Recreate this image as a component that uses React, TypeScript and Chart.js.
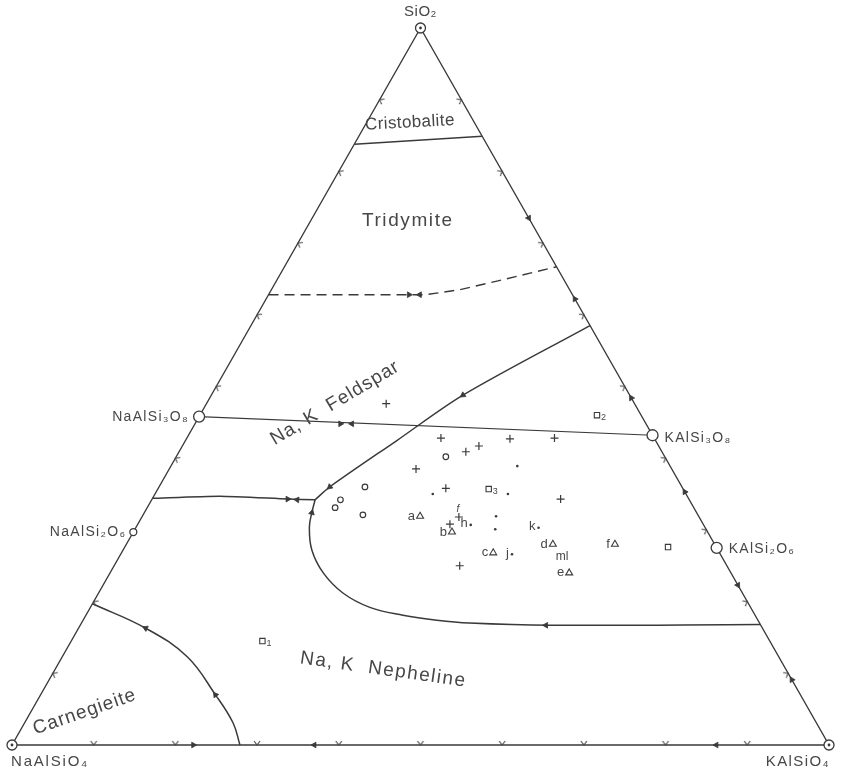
import React, { useEffect, useRef } from "react";
import { Chart, registerables } from "chart.js";

Chart.register(...registerables);

// Compositions in weight %: [SiO2, KAlSiO4]; NaAlSiO4 is the remainder.
type Comp = [number, number];

const endMemberNames = ["SiO₂", "NaAlSiO₄", "KAlSiO₄"];
const endMembers: Comp[] = [[100, 0], [0, 0], [0, 100]];

const compoundNames = ["NaAlSi₃O₈", "KAlSi₃O₈", "NaAlSi₂O₆", "KAlSi₂O₆"];
const compounds: Comp[] = [[45.8, 0], [43.2, 56.8], [29.7, 0], [27.5, 72.5]];

const tickLevels = [10, 20, 30, 40, 50, 60, 70, 80, 90];

// Field boundaries
const triangleSides: Comp[] = [[100, 0], [0, 0], [0, 100], [100, 0]];
const cristobaliteTridymite: Comp[] = [[83.8, 0], [84.9, 15.1]];
const tridymiteFeldspar: Comp[] = [[62.8, 0], [62.8, 19.2], [63.5, 23.1], [64.7, 27.0], [66.7, 33.3]];
const feldsparJoin: Comp[] = [[45.8, 0], [43.2, 56.8]];
const feldsparLeucite: Comp[] = [[58.5, 41.5], [48.8, 30.8], [42.5, 25.9], [36.0, 20.9], [34.2, 20.0]];
const feldsparNepheline: Comp[] = [[34.4, 0], [34.7, 8.1], [34.3, 16.6], [34.2, 20.0]];
const leuciteNepheline: Comp[] = [
  [34.2, 20.0], [32.4, 20.5], [30.4, 21.2], [27.2, 23.1], [24.0, 26.1], [21.2, 29.9],
  [19.2, 34.2], [18.1, 38.8], [17.4, 43.3], [17.0, 47.5], [16.7, 57.5], [16.8, 83.2],
];
const carnegieiteNepheline: Comp[] = [[19.7, 0], [16.3, 8.2], [12.3, 15.3], [7.0, 21.4], [3.1, 25.5], [0, 27.9]];

// Arrows: position and a point they head toward
const arrowAt: Comp[] = [
  [44.8, 17.8], [44.8, 19.2], [62.8, 17.2], [62.8, 18.5], [34.3, 16.6], [34.2, 17.8],
  [36.0, 20.9], [48.8, 30.8], [32.4, 20.5], [16.7, 57.0], [16.3, 8.2], [7.0, 21.4],
  [73.5, 26.5], [62.2, 37.8], [48.4, 51.6], [35.3, 64.7], [22.3, 77.7], [9.1, 90.9],
  [0, 22.2], [0, 37.0], [0, 86.2],
];
const arrowTo: Comp[] = [
  [44.8, 19.0], [44.8, 18.0], [62.8, 18.5], [62.8, 17.2], [34.3, 17.8], [34.3, 16.6],
  [34.2, 20.0], [42.5, 25.9], [34.2, 20.0], [16.8, 50.0], [19.7, 0], [12.3, 15.3],
  [70.0, 30.0], [66.0, 34.0], [52.0, 48.0], [40.0, 60.0], [18.0, 82.0], [14.0, 86.0],
  [0, 25.0], [0, 33.0], [0, 82.0],
];

// Experimental compositions
const plusPoints: Comp[] = [
  [47.6, 22.0], [42.8, 31.1], [42.7, 39.6], [42.8, 45.0], [40.9, 35.1], [41.7, 36.3],
  [38.5, 30.2], [35.8, 35.2], [34.3, 50.0], [25.0, 42.3], [30.8, 38.2], [31.8, 38.8],
];
const circlePoints: Comp[] = [[40.2, 33.0], [36.0, 25.2], [34.2, 23.1], [33.1, 23.0], [32.1, 26.9]];
const dotPoints: Comp[] = [
  [38.9, 42.4], [35.0, 34.0], [35.0, 43.2], [31.9, 43.3], [30.1, 44.1], [30.3, 49.3], [30.7, 40.8], [26.6, 47.9],
];
const dotLabels = ["", "", "", "", "", "k", "h", "j"];
const squarePoints: Comp[] = [[35.7, 40.5], [27.6, 66.5], [46.0, 48.6], [14.5, 23.4]];
const squareLabels = ["3", "", "2", "1"];
const trianglePoints: Comp[] = [[31.9, 34.0], [29.7, 39.0], [26.8, 45.5], [28.0, 52.2], [24.0, 56.2], [28.0, 59.8]];
const triangleLabels = ["a", "b", "c", "d", "e", "f"];

const regionNames = ["Cristobalite", "Tridymite", "Na, K  Feldspar", "Na, K  Nepheline", "Carnegieite"];
const regionCenters: Comp[] = [[86.8, 5.3], [73.1, 11.9], [47.7, 15.7], [10.5, 40.2], [4.6, 6.6]];

const LINE = "#3a3a3a";
const TEXT = "#474747";
const FONT = '"Liberation Sans", "DejaVu Sans", sans-serif';

const toXY = (c: Comp) => ({ x: (c[1] + c[0] / 2) / 100, y: c[0] / 100 });

function pix(chart: any, c: Comp): [number, number] {
  const v = toXY(c);
  return [chart.scales.x.getPixelForValue(v.x), chart.scales.y.getPixelForValue(v.y)];
}

function makeChevron(): HTMLCanvasElement {
  const c = document.createElement("canvas");
  c.width = 12;
  c.height = 12;
  const g = c.getContext("2d")!;
  g.strokeStyle = "#4a4a4a";
  g.lineWidth = 1.1;
  g.beginPath();
  g.moveTo(3, 10);
  g.lineTo(6, 6);
  g.lineTo(9, 10);
  g.stroke();
  return c;
}

// Ticks every 10 % along each side
const tickPoints: Comp[] = [];
const tickSide: string[] = [];
tickLevels.forEach((v) => {
  if (v !== 30) { tickPoints.push([v, 0]); tickSide.push("L"); }
  tickPoints.push([v, 100 - v]); tickSide.push("R");
  tickPoints.push([0, v]); tickSide.push("B");
});
const sideEnds: Record<string, [Comp, Comp]> = {
  L: [[0, 0], [100, 0]],
  R: [[0, 100], [100, 0]],
  B: [[0, 0], [0, 100]],
};

function setSpacing(ctx: any, px: number) {
  ctx.letterSpacing = `${px}px`;
}

const textPlugin = {
  id: "ternaryText",
  afterDatasetsDraw(chart: any) {
    const ctx: CanvasRenderingContext2D = chart.ctx;
    ctx.save();
    ctx.fillStyle = TEXT;
    ctx.textBaseline = "middle";

    // end members
    const emOff = [[0, -16, "center", 15, 0.5], [-1, 17, "left", 15, 1.8], [1, 17, "right", 15, 1.4]];
    endMembers.forEach((c, i) => {
      const [x, y] = pix(chart, c);
      ctx.font = `${emOff[i][3]}px ${FONT}`;
      setSpacing(ctx, emOff[i][4] as number);
      ctx.textAlign = emOff[i][2] as CanvasTextAlign;
      ctx.fillText(endMemberNames[i], x + (emOff[i][0] as number), y + (emOff[i][1] as number));
    });
    // compounds
    const cOff = [[-10, 1, "right"], [12, 3, "left"], [-7, 0, "right"], [12, 1, "left"]];
    compounds.forEach((c, i) => {
      const [x, y] = pix(chart, c);
      ctx.font = `14px ${FONT}`;
      setSpacing(ctx, 1.3);
      ctx.textAlign = cOff[i][2] as CanvasTextAlign;
      ctx.fillText(compoundNames[i], x + (cOff[i][0] as number), y + (cOff[i][1] as number));
    });
    // fields
    const rStyle = [[-3, 17, 0.4], [0, 19, 1.6], [-31, 19, 1.0], [8, 19, 1.5], [-19, 19, 1.0]];
    regionCenters.forEach((c, i) => {
      const [x, y] = pix(chart, c);
      ctx.save();
      ctx.translate(x, y);
      ctx.rotate((rStyle[i][0] * Math.PI) / 180);
      ctx.font = `${rStyle[i][1]}px ${FONT}`;
      setSpacing(ctx, rStyle[i][2]);
      ctx.textAlign = "center";
      ctx.fillText(regionNames[i], 0, 0);
      ctx.restore();
    });
    setSpacing(ctx, 0);
    // point letters
    ctx.font = `13px ${FONT}`;
    ctx.textAlign = "right";
    trianglePoints.forEach((c, i) => {
      const [x, y] = pix(chart, c);
      ctx.fillText(triangleLabels[i], x - 5, y);
    });
    dotPoints.forEach((c, i) => {
      if (!dotLabels[i]) return;
      const [x, y] = pix(chart, c);
      ctx.fillText(dotLabels[i], x - 3, y - 1);
    });
    ctx.font = `9px ${FONT}`;
    ctx.textAlign = "left";
    squarePoints.forEach((c, i) => {
      if (!squareLabels[i]) return;
      const [x, y] = pix(chart, c);
      ctx.fillText(squareLabels[i], x + 4, y + 2);
    });
    {
      const [x, y] = pix(chart, trianglePoints[3]);
      ctx.font = `12px ${FONT}`;
      ctx.fillText("ml", x + 3, y + 12);
      const [fx, fy] = pix(chart, plusPoints[11]);
      ctx.font = `italic 10px ${FONT}`;
      ctx.textAlign = "center";
      ctx.fillText("f", fx - 1, fy - 8);
    }
    ctx.restore();
  },
};

export default function App() {
  const ref = useRef<HTMLCanvasElement>(null);
  useEffect(() => {
    const canvas = ref.current!;
    const chevron = makeChevron();
    const line = (data: Comp[], extra: any = {}) => ({
      data: data.map(toXY),
      showLine: true,
      pointRadius: 0,
      borderColor: LINE,
      borderWidth: 1.5,
      tension: 0,
      fill: false,
      clip: false,
      order: 10,
      ...extra,
    });
    const marks = (data: Comp[], extra: any) => ({
      data: data.map(toXY),
      showLine: false,
      borderColor: LINE,
      backgroundColor: "#ffffff",
      borderWidth: 1.1,
      clip: false,
      order: 5,
      ...extra,
    });
    const chart = new Chart(canvas, {
      type: "scatter",
      data: {
        datasets: [
          line(triangleSides, { borderWidth: 1.4 }),
          line(cristobaliteTridymite),
          line(tridymiteFeldspar, { borderDash: [10, 6], borderWidth: 1.4 }),
          line(feldsparJoin, { borderWidth: 1.2 }),
          line(feldsparLeucite, { tension: 0.3 }),
          line(feldsparNepheline, { tension: 0.2 }),
          line(leuciteNepheline, { tension: 0.4 }),
          line(carnegieiteNepheline, { tension: 0.4 }),
          marks(tickPoints, {
            pointStyle: chevron,
            pointRadius: 5,
            order: 8,
            rotation: (c: any) => {
              const s = tickSide[c.dataIndex];
              if (!s) return 0;
              const [a, b] = sideEnds[s];
              const pa = pix(c.chart, a), pb = pix(c.chart, b), pc = pix(c.chart, [33.3, 33.3]);
              let nx = -(pb[1] - pa[1]), ny = pb[0] - pa[0];
              const m = [(pa[0] + pb[0]) / 2, (pa[1] + pb[1]) / 2];
              if (nx * (pc[0] - m[0]) + ny * (pc[1] - m[1]) < 0) { nx = -nx; ny = -ny; }
              return (Math.atan2(-nx, ny) * 180) / Math.PI;
            },
          }),
          marks(arrowAt, {
            pointStyle: "triangle",
            pointRadius: 3.3,
            backgroundColor: LINE,
            borderWidth: 0.8,
            order: 7,
            rotation: (c: any) => {
              const a = arrowAt[c.dataIndex], b = arrowTo[c.dataIndex];
              if (!a || !b) return 0;
              const pa = pix(c.chart, a), pb = pix(c.chart, b);
              return (Math.atan2(pb[0] - pa[0], -(pb[1] - pa[1])) * 180) / Math.PI;
            },
          }),
          marks(plusPoints, { pointStyle: "cross", pointRadius: 4, borderWidth: 1.2 }),
          marks(circlePoints, { pointStyle: "circle", pointRadius: 2.8, borderWidth: 1.2 }),
          marks(dotPoints, { pointStyle: "circle", pointRadius: 1.3, backgroundColor: LINE, borderWidth: 0 }),
          marks(squarePoints, { pointStyle: "rect", pointRadius: 3.8, borderWidth: 1.1 }),
          marks(trianglePoints, { pointStyle: "triangle", pointRadius: 4, borderWidth: 1.1 }),
          marks(compounds, { pointStyle: "circle", pointRadius: [5.5, 5.5, 3.5, 5.5], borderWidth: 1.3, order: 2 }),
          marks(endMembers, { pointStyle: "circle", pointRadius: 5, borderWidth: 1.3, order: 2 }),
          marks(endMembers, { pointStyle: "circle", pointRadius: 1.4, backgroundColor: LINE, borderWidth: 0, order: 1 }),
        ] as any,
      },
      options: {
        responsive: false,
        animation: false,
        devicePixelRatio: 1,
        events: [],
        layout: { padding: { left: 12, right: 13, top: 28, bottom: 25 } },
        scales: {
          x: { type: "linear", min: 0, max: 1, display: false },
          y: { type: "linear", min: 0, max: 1, display: false },
        },
        plugins: { legend: { display: false }, tooltip: { enabled: false } },
      },
      plugins: [textPlugin],
    });
    return () => chart.destroy();
  }, []);
  return (
    <div style={{ position: "absolute", left: 0, top: 0, width: 842, height: 770, background: "#ffffff" }}>
      <canvas ref={ref} width={842} height={770} style={{ display: "block" }} />
    </div>
  );
}
